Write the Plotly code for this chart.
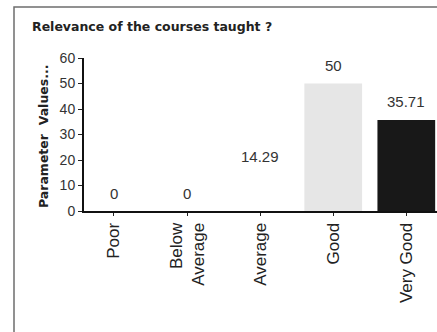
import plotly.graph_objects as go

# Survey responses: "Relevance of the courses taught ?"
categories = ["Poor", "Below<br>Average", "Average", "Good", "Very Good"]
values = [0, 0, 14.29, 50, 35.71]
bar_colors = ["#ffffff", "#ffffff", "#ffffff", "#e6e6e6", "#181818"]
y_ticks = [0, 10, 20, 30, 40, 50, 60]

W, H = 437, 332
L, T, B = 84, 58, 121
plot_w = W - L
plot_h = H - T - B


def px_x(px):
    return (px - L) / plot_w


def px_y(py):
    return (H - B - py) / plot_h


fig = go.Figure()
fig.add_trace(go.Bar(
    x=list(range(len(categories))),
    y=values,
    marker=dict(color=bar_colors, line=dict(width=0)),
    width=0.79,
    hoverinfo="skip",
))

# value labels above each bar
for i, v in enumerate(values):
    fig.add_annotation(
        x=i, y=v, xref="x", yref="y",
        text=f"{v:g}", showarrow=False, yshift=18,
        yanchor="middle",
        font=dict(family="Liberation Sans, Arial", size=15, color="#333333"),
    )

# y-axis caption
fig.add_annotation(
    x=px_x(43), y=px_y(137), xref="paper", yref="paper",
    text="<b>Parameter  Values...</b>", textangle=-90, showarrow=False,
    xanchor="center", yanchor="middle",
    font=dict(family="DejaVu Sans", size=12.5, color="#222222"),
)

# outer frame
fig.add_shape(
    type="rect", xref="paper", yref="paper",
    x0=px_x(14), x1=px_x(460), y0=px_y(360), y1=px_y(7),
    line=dict(color="#6e6e6e", width=1.5), fillcolor="rgba(0,0,0,0)",
    layer="below",
)

fig.update_layout(
    width=W, height=H,
    margin=dict(l=L, r=0, t=T, b=B),
    paper_bgcolor="white", plot_bgcolor="white",
    showlegend=False,
    title=dict(
        text="<b>Relevance of the courses taught ?</b>",
        x=32 / W, xref="container", xanchor="left",
        y=1 - 27 / H, yref="container", yanchor="middle",
        font=dict(family="DejaVu Sans", size=12.5, color="#222222"),
    ),
    xaxis=dict(
        range=[-0.41, 4.42],
        tickmode="array",
        tickvals=list(range(len(categories))),
        ticktext=categories,
        tickangle=-90,
        ticks="outside", ticklen=3, tickcolor="#222222",
        showline=True, linecolor="#111111", linewidth=2,
        showgrid=False, zeroline=False,
        tickfont=dict(family="Liberation Sans, Arial", size=17, color="#222222"),
    ),
    yaxis=dict(
        range=[0, 60],
        tickmode="array",
        tickvals=y_ticks,
        ticks="outside", ticklen=4, tickcolor="#222222",
        showline=True, linecolor="#111111", linewidth=2,
        showgrid=False, zeroline=False,
        tickfont=dict(family="Liberation Sans, Arial", size=14, color="#333333"),
    ),
)

fig.write_html("out.html")
